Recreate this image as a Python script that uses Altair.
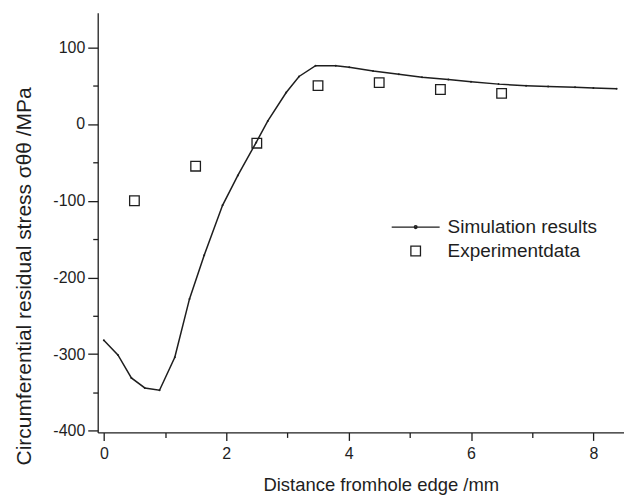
import altair as alt
import pandas as pd

# ---- data ----
sim_x = [0.0, 0.23, 0.45, 0.67, 0.91, 1.16, 1.40, 1.64, 1.94, 2.19, 2.49, 2.68,
         2.98, 3.19, 3.46, 3.79, 4.01, 4.40, 4.82, 5.20, 5.63, 6.00, 6.45, 6.90,
         7.26, 7.70, 8.00, 8.38]
sim_y = [-282, -301, -331, -344, -347, -304, -228, -171, -106, -67, -24, 4,
         41, 62, 76, 76, 74, 69, 65, 61, 58, 55, 52, 50,
         49, 48, 47, 46]
exp_x = [0.5, 1.5, 2.5, 3.5, 4.5, 5.5, 6.5]
exp_y = [-100, -55, -25, 50, 54, 45, 40]
series_names = ["Simulation results", "Experimentdata"]
x_ticks = [0, 1, 2, 3, 4, 5, 6, 7, 8]
y_ticks = [-400, -350, -300, -250, -200, -150, -100, -50, 0, 50, 100]

sim = pd.DataFrame({"x": sim_x, "y": sim_y, "series": series_names[0]})
exp = pd.DataFrame({"x": exp_x, "y": exp_y, "series": series_names[1]})

FONT = "Liberation Sans"
INK = "#1e1e1e"

# legend / marker symbols (custom paths, scaled by sqrt(size)/2)
sim_symbol = "M-1.85,0H1.85M-0.11,0A0.11,0.11 0 1,0 0.11,0A0.11,0.11 0 1,0 -0.11,0"
sq_symbol = "M-0.37,-0.37H0.37V0.37H-0.37Z"
SYM_SIZE = 676

xscale = alt.Scale(domain=[-0.1, 8.5], nice=False, zero=False)
yscale = alt.Scale(domain=[-402, 145], nice=False, zero=False)

x_axis = alt.Axis(
    values=x_ticks,
    labelExpr="datum.value % 2 === 0 ? '' + datum.value : ''",
    tickSize={"condition": {"test": "datum.value % 2 === 0", "value": 8}, "value": 5},
    labelPadding=5,
    labelFontSize=16,
    title="Distance fromhole edge /mm",
    titleFontSize=18.5,
    titleX=284,
    titleY=58,
    titleAlign="center",
    titleBaseline="alphabetic",
)
y_axis = alt.Axis(
    values=y_ticks,
    labelExpr="datum.value % 100 === 0 ? '' + datum.value : ''",
    tickSize={"condition": {"test": "datum.value % 100 === 0", "value": 10}, "value": 5},
    labelPadding=3,
    labelFontSize=16,
    title="Circumferential residual stress σθθ /MPa",
    titleFontSize=21,
    titleX=-73,
    titleY=264,
    titleAngle=-90,
    titleAlign="center",
    titleBaseline="middle",
)

x_enc = alt.X("x:Q", scale=xscale, axis=x_axis)
y_enc = alt.Y("y:Q", scale=yscale, axis=y_axis)

line = alt.Chart(sim).mark_line(color=INK, strokeWidth=1.5).encode(x=x_enc, y=y_enc)
dots = alt.Chart(sim).mark_point(filled=True, size=4, color=INK, opacity=1).encode(x=x_enc, y=y_enc)
squares = alt.Chart(exp).mark_point(
    filled=False, size=SYM_SIZE, color=INK, strokeWidth=1.3, opacity=1
).encode(
    x=x_enc,
    y=y_enc,
    shape=alt.Shape(
        "series:N",
        scale=alt.Scale(domain=series_names, range=[sim_symbol, sq_symbol]),
        legend=alt.Legend(
            title=None,
            orient="none",
            legendX=305,
            legendY=201,
            padding=0,
            rowPadding=0,
            labelOffset=18,
            labelFont=FONT,
            labelFontSize=19,
            labelColor=INK,
            symbolSize=SYM_SIZE,
            symbolStrokeColor=INK,
            symbolStrokeWidth=1.3,
            symbolFillColor="transparent",
        ),
    ),
)

chart = alt.layer(line, dots, squares).properties(
    width=528,
    height=421,
    padding={"left": 5, "top": 4, "right": 0, "bottom": 0},
    background="white",
).configure_view(stroke=None).configure_axis(
    grid=False,
    domainColor=INK,
    domainWidth=1.3,
    tickColor=INK,
    tickWidth=1.3,
    labelFont=FONT,
    labelColor=INK,
    titleFont=FONT,
    titleColor=INK,
    titleFontWeight="normal",
)

chart.save("out.html", embed_options={"renderer": "svg", "actions": False})
